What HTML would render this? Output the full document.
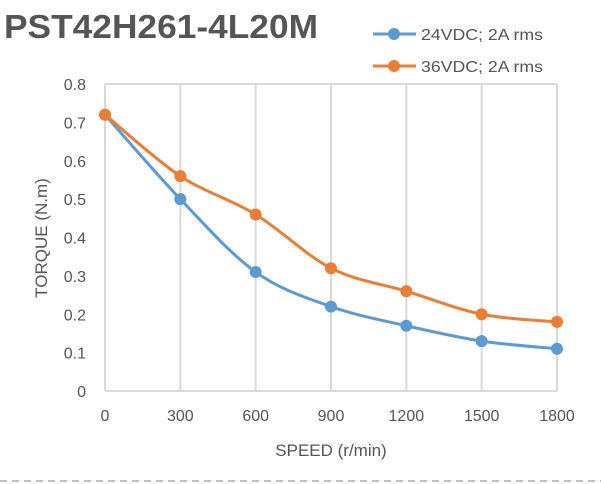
<!DOCTYPE html>
<html><head><meta charset="utf-8"><style>
html,body{margin:0;padding:0;background:#fff;}
svg{display:block;font-family:"Liberation Sans",sans-serif;}
</style></head><body>
<svg id="c" width="601" height="484" viewBox="0 0 601 484">
<text x="4" y="38" font-size="33" font-weight="bold" fill="#555" textLength="314" lengthAdjust="spacingAndGlyphs">PST42H261-4L20M</text>
<g>
<g>
<line x1="373" y1="34" x2="416" y2="34" stroke="#5b9bd5" stroke-width="3"/>
<circle cx="394" cy="34" r="6" fill="#5b9bd5"/>
<text x="421" y="40" font-size="16" fill="#555" textLength="122" lengthAdjust="spacingAndGlyphs">24VDC; 2A rms</text></g>
<g>
<line x1="373" y1="66" x2="416" y2="66" stroke="#ed7d31" stroke-width="3"/>
<circle cx="394" cy="66" r="6" fill="#ed7d31"/>
<text x="421" y="72" font-size="16" fill="#555" textLength="122" lengthAdjust="spacingAndGlyphs">36VDC; 2A rms</text></g>
</g>
<g id="grid"></g>
<g id="yt"></g>
<g id="xt"></g>
<g id="series"></g>
<text transform="translate(47,238) rotate(-90)" text-anchor="middle" font-size="17" fill="#555">TORQUE (N.m)</text>
<text x="331" y="456" text-anchor="middle" font-size="17" fill="#555">SPEED (r/min)</text>
<line x1="0" y1="481" x2="601" y2="481" stroke="#aaa" stroke-width="1.5" stroke-dasharray="7,5"/>
</svg>
<script>
const speeds=[0,300,600,900,1200,1500,1800];
const torque24=[0.72,0.50,0.31,0.22,0.17,0.13,0.11];
const torque36=[0.72,0.56,0.46,0.32,0.26,0.20,0.18];
const yTicks=[0,0.1,0.2,0.3,0.4,0.5,0.6,0.7,0.8];
const xTicks=["0","300","600","900","1200","1500","1800"];
const NS="http://www.w3.org/2000/svg";
const X0=105,X1=557,Y0=391,Y1=84;
const sx=v=>X0+(v-0)/(1800-0)*(X1-X0);
const sy=v=>Y0-(v/0.8)*(Y0-Y1);
function mk(t,a,p){const e=document.createElementNS(NS,t);for(const k in a)e.setAttribute(k,a[k]);p.appendChild(e);return e;}
const grid=document.getElementById('grid');
speeds.forEach(s=>{const l=mk('line',{x1:sx(s),x2:sx(s),y1:Y1,y2:Y0,stroke:'#d9d9d9','stroke-width':2},grid);

});
[Y1,Y0].forEach(y=>{const l=mk('line',{x1:X0,x2:X1,y1:y,y2:y,stroke:'#d9d9d9','stroke-width':2},grid);

});
const yt=document.getElementById('yt');
yTicks.forEach(v=>{const t=mk('text',{x:86,y:sy(v)+6,'text-anchor':'end','font-size':16,fill:'#555'},yt);t.textContent=v===0?'0':v.toFixed(1);

});
const xt=document.getElementById('xt');
xTicks.forEach((s,i)=>{const t=mk('text',{x:sx(speeds[i]),y:421,'text-anchor':'middle','font-size':16,fill:'#555'},xt);t.textContent=s;

});
function smooth(p){let d=`M${p[0][0]},${p[0][1]}`;for(let i=0;i<p.length-1;i++){const p0=p[i-1]||p[i],p1=p[i],p2=p[i+1],p3=p[i+2]||p2;const k=6;
d+=` C${p1[0]+(p2[0]-p0[0])/k},${p1[1]+(p2[1]-p0[1])/k} ${p2[0]-(p3[0]-p1[0])/k},${p2[1]-(p3[1]-p1[1])/k} ${p2[0]},${p2[1]}`;}return d;}
const ser=document.getElementById('series');
[[torque24,'#5b9bd5','series-24vdc'],[torque36,'#ed7d31','series-36vdc']].forEach(([vals,col,name])=>{
const g=mk('g',{},ser);


const pts=vals.map((v,i)=>[sx(speeds[i]),sy(v)]);
const path=mk('path',{d:smooth(pts),fill:'none',stroke:col,'stroke-width':3},g);


pts.forEach(p=>{const c=mk('circle',{cx:p[0],cy:p[1],r:6,fill:col},g);

});
});
</script>
</body></html>
